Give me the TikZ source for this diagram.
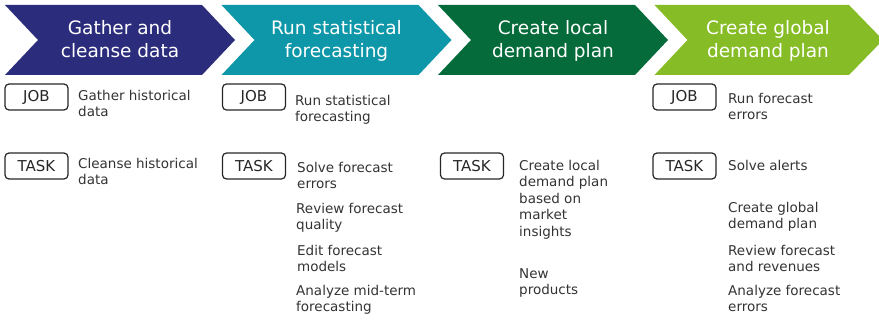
\documentclass[tikz,border=0pt]{standalone}
\usepackage{fontspec}
\setmainfont{DejaVu Sans}
\begin{document}
\begin{tikzpicture}[x=1pt,y=-1pt,
  chev/.style={draw=none},
  headtxt/.style={text=white,font=\fontsize{18.5}{23}\selectfont,align=center,inner sep=0pt,anchor=north},
  tagbox/.style={draw=black!85,line width=1.2pt,rounded corners=4pt,minimum width=63pt,minimum height=26pt,inner sep=0pt,font=\fontsize{15}{18}\selectfont,text=black!85},
  desc/.style={anchor=north west,inner sep=0pt,align=left,text=black!80,font=\fontsize{13.5}{16.5}\selectfont}]
\definecolor{navy}{HTML}{2B2D7C}
\definecolor{teal}{HTML}{0E97A8}
\definecolor{dgreen}{HTML}{066B3A}
\definecolor{lgreen}{HTML}{86BC25}
\useasboundingbox (0,0) rectangle (879,321);
\begin{scope}
\clip (0,0) rectangle (879,321);
% process chevrons
\fill[navy]   (5,5)   -- (202,5)   -- (235,40)   -- (202,75)   -- (5,75)   -- (38,40)   -- cycle;
\fill[teal]   (221.5,5) -- (418.5,5) -- (451.5,40) -- (418.5,75) -- (221.5,75) -- (254.5,40) -- cycle;
\fill[dgreen] (438,5) -- (635,5) -- (668,40) -- (635,75) -- (438,75) -- (471,40) -- cycle;
\fill[lgreen] (654.5,5) -- (849,5) -- (883,40) -- (849,75) -- (654.5,75) -- (687.5,40) -- cycle;
\end{scope}
\node[headtxt] (h1) at (120,20.5) {Gather and\\cleanse data};
\node[headtxt] (h2) at (336.5,20.5) {Run statistical\\forecasting};
\node[headtxt] (h3) at (553,20.5) {Create local\\demand plan};
\node[headtxt] (h4) at (768,20.5) {Create global\\demand plan};
% column 1
\node[tagbox] (j1) at (36.5,97) {JOB};
\node[tagbox] (t1) at (36.5,166) {TASK};
\node[desc] (d1a) at (78,90) {Gather historical\\data};
\node[desc] (d1b) at (78,158) {Cleanse historical\\data};
% column 2
\node[tagbox] (j2) at (254,97) {JOB};
\node[tagbox] (t2) at (254,166) {TASK};
\node[desc] (d2a) at (295,95) {Run statistical\\forecasting};
\node[desc] (d2b) at (297,162) {Solve forecast\\errors};
\node[desc] (d2c) at (296,203) {Review forecast\\quality};
\node[desc] (d2d) at (297,245) {Edit forecast\\models};
\node[desc] (d2e) at (296,285) {Analyze mid-term\\forecasting};
% column 3
\node[tagbox] (t3) at (472,166) {TASK};
\node[desc] (d3a) at (519,160) {Create local\\demand plan\\based on\\market\\insights};
\node[desc] (d3b) at (519,268) {New\\products};
% column 4
\node[tagbox] (j4) at (684.5,97) {JOB};
\node[tagbox] (t4) at (684.5,166) {TASK};
\node[desc] (d4a) at (728,93) {Run forecast\\errors};
\node[desc] (d4b) at (728,160) {Solve alerts};
\node[desc] (d4c) at (728,202) {Create global\\demand plan};
\node[desc] (d4d) at (728,245) {Review forecast\\and revenues};
\node[desc] (d4e) at (728,285) {Analyze forecast\\errors};
\end{tikzpicture}
\end{document}
